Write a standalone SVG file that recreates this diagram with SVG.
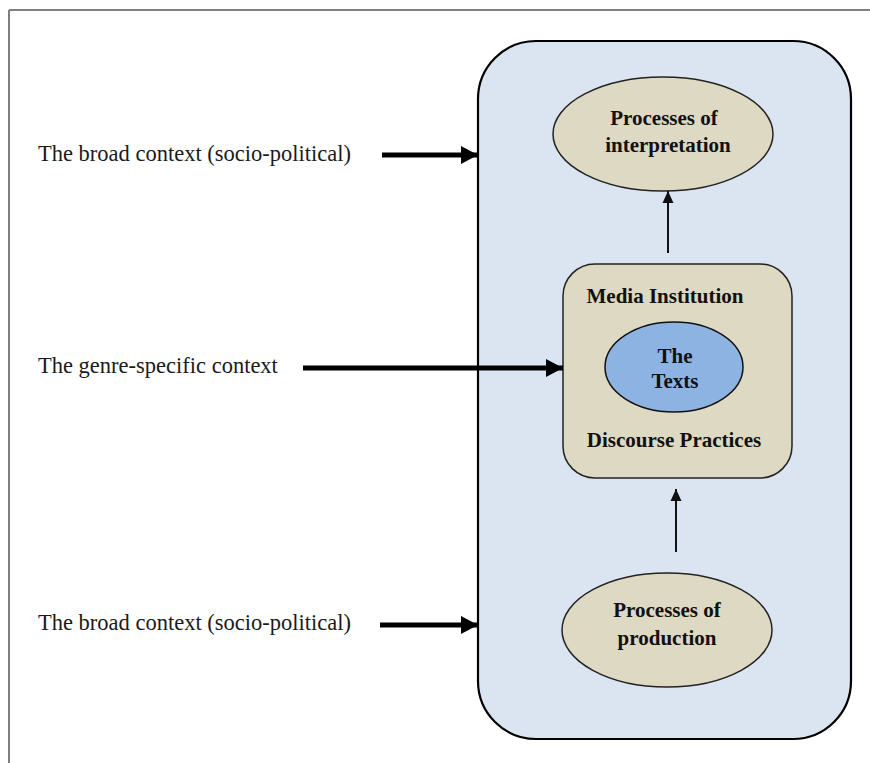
<svg xmlns="http://www.w3.org/2000/svg" width="870" height="763" viewBox="0 0 870 763">
  <style>
    .label { font-family: "Liberation Serif", "Times New Roman", serif; font-size: 22.5px; fill: #1a1a1a; }
    .bold { font-family: "Liberation Serif", "Times New Roman", serif; font-size: 21px; font-weight: bold; fill: #111; text-anchor: middle; }
    .tan { fill: #ddd9c3; stroke: #222; stroke-width: 1.5; }
    .thick { stroke: #000; stroke-width: 5; fill: none; }
    .thin { stroke: #111; stroke-width: 2; fill: none; }
  </style>
  <defs>
    <marker id="headBig" markerUnits="userSpaceOnUse" markerWidth="18" markerHeight="20" refX="17" refY="10" orient="auto">
      <path d="M0,1 L17,10 L0,19 Z" fill="#000"/>
    </marker>
    <marker id="headSmall" markerUnits="userSpaceOnUse" markerWidth="13" markerHeight="12" refX="12" refY="6" orient="auto">
      <path d="M0,0.5 L12,6 L0,11.5 Z" fill="#111"/>
    </marker>
  </defs>

  <rect width="870" height="763" fill="#ffffff"/>

  <!-- page frame -->
  <g id="frame" stroke="#7f7f7f" stroke-width="2" fill="none">
    <line x1="9" y1="10" x2="870" y2="10"/>
    <line x1="9" y1="10" x2="9" y2="763"/>
  </g>

  <!-- outer context container -->
  <g id="container">
    <rect x="478" y="41" width="373" height="698" rx="58" ry="58" fill="#dbe5f1" stroke="#000" stroke-width="2.2"/>
  </g>

  <!-- side labels -->
  <g id="broad-context-top">
    <text class="label" x="38" y="161">The broad context (socio-political)</text>
  </g>
  <g id="genre-context">
    <text class="label" x="38" y="373">The genre-specific context</text>
  </g>
  <g id="broad-context-bottom">
    <text class="label" x="38" y="630">The broad context (socio-political)</text>
  </g>

  <g id="interpretation">
    <ellipse class="tan" cx="663" cy="134" rx="110" ry="57"/>
    <text class="bold" x="664" y="125">Processes of</text>
    <text class="bold" x="668" y="152">interpretation</text>
  </g>

  <g id="media-institution">
    <rect class="tan" x="563" y="264" width="229" height="214" rx="32" ry="32"/>
    <text class="bold" x="665" y="303">Media Institution</text>
    <text class="bold" x="674" y="447">Discourse Practices</text>
  </g>

  <g id="texts">
    <ellipse cx="674" cy="367" rx="69" ry="45" fill="#8db3e2" stroke="#111" stroke-width="1.5"/>
    <text class="bold" x="675" y="363">The</text>
    <text class="bold" x="675" y="388">Texts</text>
  </g>

  <g id="production">
    <ellipse class="tan" cx="667" cy="630" rx="105" ry="57"/>
    <text class="bold" x="667" y="617">Processes of</text>
    <text class="bold" x="667" y="645">production</text>
  </g>

  <!-- connectors -->
  <g id="connectors">
    <line class="thick" x1="382" y1="155" x2="478" y2="155" marker-end="url(#headBig)"/>
    <line class="thick" x1="303" y1="368" x2="563" y2="368" marker-end="url(#headBig)"/>
    <line class="thick" x1="380" y1="625" x2="478" y2="625" marker-end="url(#headBig)"/>
    <line class="thin" x1="668" y1="253" x2="668" y2="191" marker-end="url(#headSmall)"/>
    <line class="thin" x1="676" y1="552" x2="676" y2="489" marker-end="url(#headSmall)"/>
  </g>
</svg>
